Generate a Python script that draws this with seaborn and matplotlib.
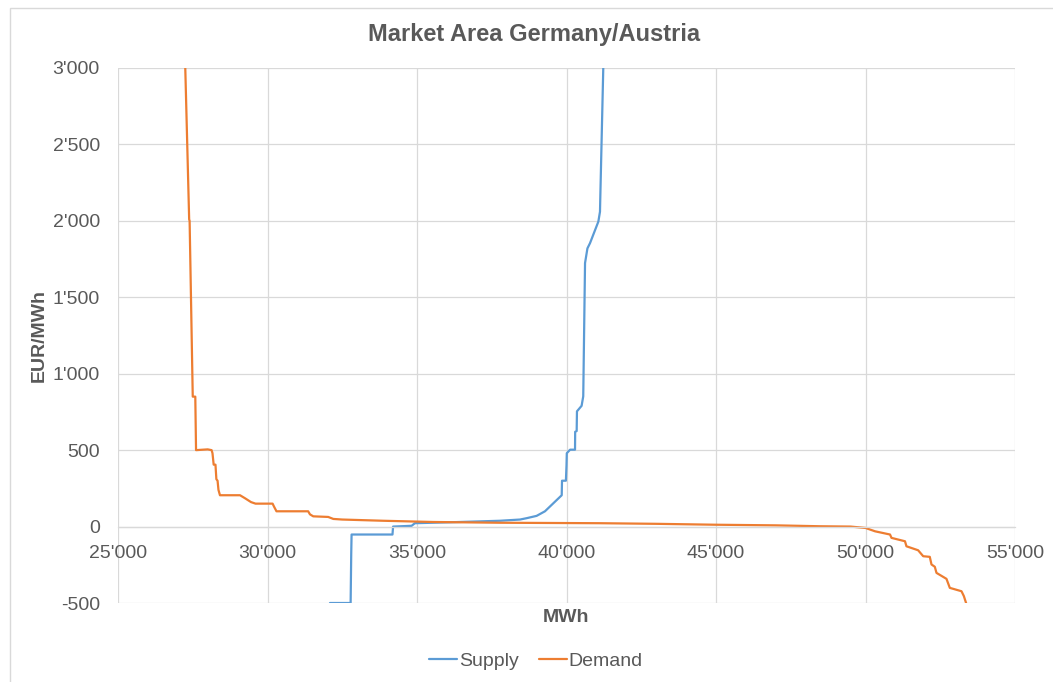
import matplotlib
matplotlib.use("Agg")
import matplotlib.pyplot as plt
import matplotlib.ticker as mticker
from matplotlib.patches import Rectangle
import pandas as pd
import seaborn as sns

# supply curve (MWh, EUR/MWh)
supply_mwh = [32090, 32780, 32800, 32812, 34180, 34200, 34820, 34930, 36100, 37775,
              38445, 38670, 39000, 39280, 39840, 39850, 39980, 40000, 40010, 40120,
              40285, 40290, 40340, 40350, 40505, 40560, 40620, 40700, 40786, 41065,
              41120, 41130, 41230]
supply_price = [-500, -500, -180, -52, -52, 0, 5, 22, 28, 38,
                46, 55, 70, 100, 205, 300, 300, 400, 480, 503,
                503, 620, 625, 754, 790, 852, 1724, 1820, 1854, 1995,
                2060, 2150, 3000]

# demand curve (MWh, EUR/MWh)
demand_mwh = [27250, 27380, 27395, 27500, 27585, 27610, 28000, 28130, 28160, 28200,
              28260, 28290, 28330, 28360, 28410, 29080, 29250, 29450, 29600, 30170,
              30220, 30300, 31360, 31420, 31530, 32030, 32200, 32500, 33870, 35540,
              37775, 41120, 43000, 45000, 47000, 48500, 49500, 50000, 50320, 50820,
              50870, 51320, 51370, 51760, 51930, 52150, 52207, 52318, 52374, 52708,
              52820, 53210, 53290, 53380]
demand_price = [3000, 2010, 2000, 850, 850, 500, 505, 500, 480, 405,
                405, 310, 300, 240, 205, 205, 185, 160, 150, 150,
                130, 100, 100, 80, 67, 63, 50, 46, 38, 30,
                25, 22, 18, 12, 8, 2, 0, -9, -31, -52,
                -74, -96, -129, -155, -194, -198, -248, -263, -303, -342,
                -401, -423, -455, -510]

sup = pd.DataFrame({"MWh": supply_mwh, "price": supply_price, "curve": "Supply"})
dem = pd.DataFrame({"MWh": demand_mwh, "price": demand_price, "curve": "Demand"})
df = pd.concat([sup, dem], ignore_index=True)

sns.set_theme(style="white")
plt.rcParams["font.family"] = ["Liberation Sans", "DejaVu Sans"]
text_col = "#595959"
grid_col = "#D9D9D9"

fig = plt.figure(figsize=(10.53, 6.82), dpi=100)
ax = fig.add_axes([118 / 1053, 1 - 603 / 682, (1015 - 118) / 1053, (603 - 68) / 682])

sns.lineplot(data=df, x="MWh", y="price", hue="curve", sort=False, estimator=None,
             palette={"Supply": "#5B9BD5", "Demand": "#ED7D31"}, linewidth=1.6,
             legend=False, ax=ax)

ax.set_xlim(25000, 55000)
ax.set_ylim(-500, 3000)
ax.set_xticks(range(25000, 55001, 5000))
ax.set_yticks(range(-500, 3001, 500))
fmt = mticker.FuncFormatter(lambda v, p: f"{v:,.0f}".replace(",", "'"))
ax.xaxis.set_major_formatter(fmt)
ax.yaxis.set_major_formatter(fmt)
ax.grid(True, color=grid_col, linewidth=0.9)
ax.set_axisbelow(True)
for s in ["top", "right", "left"]:
    ax.spines[s].set_visible(False)
ax.spines["bottom"].set_position(("data", 0))
ax.spines["bottom"].set_color(grid_col)
ax.spines["bottom"].set_linewidth(0.9)
ax.tick_params(axis="both", length=0, labelsize=14, labelcolor=text_col)
ax.tick_params(axis="x", pad=13)
ax.tick_params(axis="y", pad=13)

ax.set_xlabel("MWh", fontsize=14, fontweight="bold", color=text_col)
ax.xaxis.set_label_coords(0.5, -0.012)
ax.set_ylabel("EUR/MWh", fontsize=14, fontweight="bold", color=text_col)
ax.yaxis.set_label_coords(-0.078, 0.5)

fig.text(534 / 1053, 1 - 34 / 682, "Market Area Germany/Austria", ha="center", va="center",
         fontsize=17, fontweight="bold", color=text_col)

handles = [plt.Line2D([], [], color="#5B9BD5", lw=1.6), plt.Line2D([], [], color="#ED7D31", lw=1.6)]
fig.legend(handles, ["Supply", "Demand"], loc="center", bbox_to_anchor=(536 / 1053, 1 - 661 / 682),
           ncol=2, frameon=False, fontsize=14, handlelength=1.45, handletextpad=0.1,
           columnspacing=1.0, labelcolor=text_col)

fig.patches.append(Rectangle((10 / 1053, -0.05), 1.1, 1 - 8 / 682 + 0.05, transform=fig.transFigure,
                             fill=False, edgecolor=grid_col, linewidth=1.0, clip_on=False))

plt.savefig("out.png", dpi=100)
